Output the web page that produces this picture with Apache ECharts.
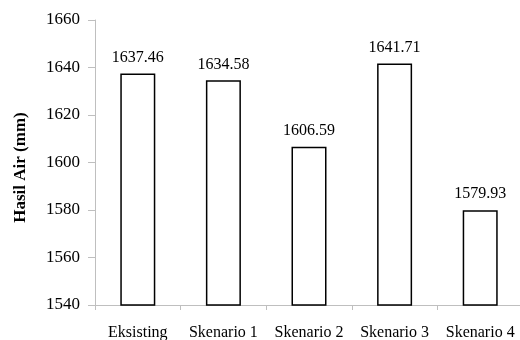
<!DOCTYPE html>
<html>
<head>
<meta charset="utf-8">
<script src="https://cdn.jsdelivr.net/npm/echarts@6/dist/echarts.min.js"></script>
<style>html,body{margin:0;padding:0;background:#fff}#c{width:520px;height:340px}</style>
</head>
<body>
<div id="c"></div>
<script>
const categories = ['Eksisting', 'Skenario 1', 'Skenario 2', 'Skenario 3', 'Skenario 4'];
const values = [1637.46, 1634.58, 1606.59, 1641.71, 1579.93];
const yTitle = 'Hasil Air (mm)';
const yMin = 1540, yMax = 1660, yStep = 20;

const font = 'Liberation Serif';
const chart = echarts.init(document.getElementById('c'), null, {renderer: 'canvas'});
chart.setOption({
  animation: false,
  grid: {left: 95, top: 20, width: 428, bottom: 35, containLabel: false, outerBoundsMode: 'none'},
  xAxis: {
    type: 'category',
    data: categories,
    boundaryGap: true,
    axisLine: {lineStyle: {color: '#bfbfbf', width: 1}},
    axisTick: {show: true, length: 5, alignWithLabel: false, lineStyle: {color: '#bfbfbf'}},
    axisLabel: {color: '#000', fontFamily: font, fontSize: 16, margin: 20, interval: 0}
  },
  yAxis: {
    type: 'value',
    min: yMin, max: yMax, interval: yStep,
    name: yTitle,
    nameLocation: 'middle',
    nameGap: 66,
    nameRotate: 90,
    nameTextStyle: {color: '#000', fontFamily: font, fontSize: 17, fontWeight: 'bold', padding: [0, 10, 0, 0]},
    axisLine: {show: true, lineStyle: {color: '#bfbfbf', width: 1}},
    axisTick: {show: true, length: 7, inside: false, lineStyle: {color: '#bfbfbf'}},
    splitLine: {show: false},
    axisLabel: {color: '#000', fontFamily: font, fontSize: 17, margin: 15, formatter: v => String(v)}
  },
  series: [{
    type: 'bar',
    data: values,
    barWidth: 35,
    itemStyle: {color: '#fff', borderColor: '#000', borderWidth: 1.5},
    label: {
      show: true, position: 'top', distance: 8,
      color: '#000', fontFamily: font, fontSize: 16,
      formatter: p => p.value.toFixed(2)
    }
  }]
});
</script>
</body>
</html>
